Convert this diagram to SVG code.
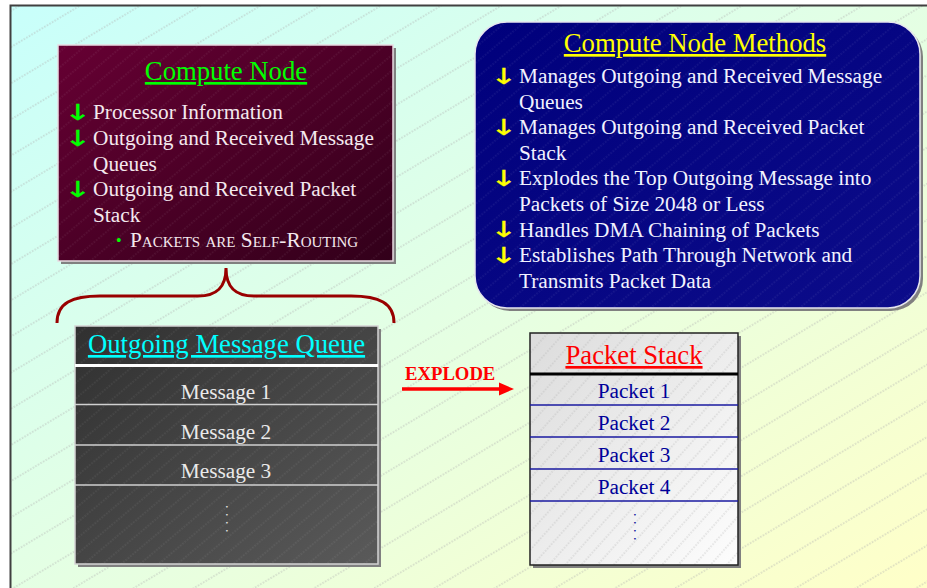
<svg xmlns="http://www.w3.org/2000/svg" width="927" height="588" viewBox="0 0 927 588">
  <defs>
    <linearGradient id="pageFill" x1="0" y1="0" x2="1" y2="1">
      <stop offset="0" stop-color="#c8fffb"/>
      <stop offset="0.5" stop-color="#e4ffe4"/>
      <stop offset="1" stop-color="#ffffc8"/>
    </linearGradient>
    <linearGradient id="maroonFill" x1="0" y1="0" x2="1" y2="1">
      <stop offset="0" stop-color="#660033"/>
      <stop offset="1" stop-color="#32001a"/>
    </linearGradient>
    <linearGradient id="navyFill" x1="0" y1="0" x2="1" y2="1">
      <stop offset="0" stop-color="#00007c"/>
      <stop offset="1" stop-color="#0c0c8a"/>
    </linearGradient>
    <linearGradient id="darkFill" x1="0" y1="0" x2="1" y2="1">
      <stop offset="0" stop-color="#303030"/>
      <stop offset="1" stop-color="#5a5a5a"/>
    </linearGradient>
    <linearGradient id="lightFill" x1="0" y1="0" x2="1" y2="1">
      <stop offset="0" stop-color="#dcdcdc"/>
      <stop offset="1" stop-color="#fdfdfd"/>
    </linearGradient>
    <!-- faint dotted diagonal texture -->
    <pattern id="pageHatch" width="42" height="31" patternUnits="userSpaceOnUse" patternTransform="rotate(-31)">
      <line x1="0" y1="15" x2="42" y2="15" stroke="#b0b0b0" stroke-width="0.8" stroke-dasharray="1.5 1.5"/>
    </pattern>
    <pattern id="boxHatchLight" width="42" height="12" patternUnits="userSpaceOnUse" patternTransform="rotate(-40)">
      <line x1="0" y1="6" x2="42" y2="6" stroke="#ffffff" stroke-opacity="0.16" stroke-width="0.8" stroke-dasharray="1.5 1.5"/>
    </pattern>
    <pattern id="boxHatchDark" width="42" height="12" patternUnits="userSpaceOnUse" patternTransform="rotate(-48)">
      <line x1="0" y1="6" x2="42" y2="6" stroke="#a8a8a8" stroke-opacity="0.7" stroke-width="0.8" stroke-dasharray="1.5 1.5"/>
    </pattern>
  </defs>
  <style>
    text { font-family: "Liberation Serif", "Times New Roman", serif; }
    .title { font-size: 26.7px; text-decoration: underline; text-anchor: middle; }
    .item { font-size: 21.3px; }
    .mark text { font-family: "DejaVu Sans", sans-serif; font-size: 22px; stroke-width: 0.3px; }
    .shadow { fill: #808080; }
    .cell { font-size: 21.3px; text-anchor: middle; }
    .dots { font-size: 14px; letter-spacing: 4.5px; writing-mode: vertical-rl; }
  </style>

  <!-- page -->
  <rect x="0" y="0" width="927" height="588" fill="#ffffff"/>
  <rect x="10" y="5" width="917" height="583" fill="url(#pageFill)"/>
  <rect x="10" y="5" width="917" height="583" fill="url(#pageHatch)"/>
  <path d="M10.5,588 V5.5 H927" fill="none" stroke="#404040" stroke-width="2"/>

  <!-- Compute Node -->
  <g id="compute-node">
    <rect class="shadow" x="61" y="48" width="335" height="216"/>
    <rect x="58" y="45" width="335" height="216" fill="url(#maroonFill)" stroke="#e8dce2" stroke-width="1.5"/>
    <rect x="58" y="45" width="335" height="216" fill="url(#boxHatchLight)"/>
    <text class="title" x="226" y="80" fill="#00ff00">Compute Node</text>
    <g fill="#00ff00" stroke="#00ff00" class="mark">
      <text transform="translate(64,120) scale(1.5,1)">↓</text>
      <text transform="translate(64,146) scale(1.5,1)">↓</text>
      <text transform="translate(64,197) scale(1.5,1)">↓</text>
    </g>
    <g class="item" fill="#f4e8ee">
      <text x="93" y="119">Processor Information</text>
      <text x="93" y="145">Outgoing and Received Message</text>
      <text x="93" y="171">Queues</text>
      <text x="93" y="196">Outgoing and Received Packet</text>
      <text x="93" y="222">Stack</text>
      <text x="130" y="247" font-variant="small-caps">Packets are Self-Routing</text>
    </g>
    <text x="116" y="246" font-size="16" fill="#00ff00">•</text>
  </g>

  <!-- Compute Node Methods -->
  <g id="compute-node-methods">
    <rect class="shadow" x="478" y="25" width="445" height="286" rx="32"/>
    <rect x="475" y="22" width="445" height="286" rx="32" fill="url(#navyFill)" stroke="#e6e6ee" stroke-width="1.5"/>
    <rect x="475" y="22" width="445" height="286" rx="32" fill="url(#boxHatchLight)"/>
    <text class="title" x="695" y="52" fill="#ffff00">Compute Node Methods</text>
    <g fill="#ffff00" stroke="#ffff00" class="mark">
      <text transform="translate(490,84) scale(1.5,1)">↓</text>
      <text transform="translate(490,135) scale(1.5,1)">↓</text>
      <text transform="translate(490,186) scale(1.5,1)">↓</text>
      <text transform="translate(490,237) scale(1.5,1)">↓</text>
      <text transform="translate(490,263) scale(1.5,1)">↓</text>
    </g>
    <g class="item" fill="#f2f2ff">
      <text x="519" y="83">Manages Outgoing and Received Message</text>
      <text x="519" y="108.6">Queues</text>
      <text x="519" y="134.2">Manages Outgoing and Received Packet</text>
      <text x="519" y="159.8">Stack</text>
      <text x="519" y="185.4">Explodes the Top Outgoing Message into</text>
      <text x="519" y="211">Packets of Size 2048 or Less</text>
      <text x="519" y="236.6">Handles DMA Chaining of Packets</text>
      <text x="519" y="262.2">Establishes Path Through Network and</text>
      <text x="519" y="287.8">Transmits Packet Data</text>
    </g>
  </g>

  <!-- Outgoing Message Queue -->
  <g id="outgoing-message-queue">
    <rect class="shadow" x="78" y="329" width="303" height="238"/>
    <rect x="75" y="326" width="303" height="238" fill="url(#darkFill)" stroke="#d4d4d4" stroke-width="1.5"/>
    <rect x="75" y="326" width="303" height="238" fill="url(#boxHatchLight)"/>
    <g stroke="#d0d0d0" stroke-width="1.5">
      <line x1="75" y1="404.5" x2="378" y2="404.5"/>
      <line x1="75" y1="445" x2="378" y2="445"/>
      <line x1="75" y1="485" x2="378" y2="485"/>
    </g>
    <line x1="75" y1="365.5" x2="378" y2="365.5" stroke="#ffffff" stroke-width="3"/>
    <text class="title" x="226.5" y="353" fill="#00ffff">Outgoing Message Queue</text>
    <g class="cell" fill="#eaeaea">
      <text x="226" y="399">Message 1</text>
      <text x="226" y="439">Message 2</text>
      <text x="226" y="478">Message 3</text>
    </g>
    <text class="dots" x="230" y="505" fill="#eaeaea">....</text>
  </g>

  <!-- Packet Stack -->
  <g id="packet-stack">
    <rect class="shadow" x="533" y="336" width="208" height="232"/>
    <rect x="530" y="333" width="208" height="232" fill="url(#lightFill)"/>
    <rect x="530" y="333" width="208" height="232" fill="url(#boxHatchDark)" stroke="#222222" stroke-width="1.5"/>
    <g stroke="#1a1aa0" stroke-width="1.5">
      <line x1="530" y1="405" x2="738" y2="405"/>
      <line x1="530" y1="437" x2="738" y2="437"/>
      <line x1="530" y1="469" x2="738" y2="469"/>
      <line x1="530" y1="501" x2="738" y2="501"/>
    </g>
    <line x1="530" y1="374" x2="738" y2="374" stroke="#000000" stroke-width="3"/>
    <text class="title" x="634" y="364" fill="#ff0000">Packet Stack</text>
    <g class="cell" fill="#000099">
      <text x="634" y="398">Packet 1</text>
      <text x="634" y="430">Packet 2</text>
      <text x="634" y="462">Packet 3</text>
      <text x="634" y="494">Packet 4</text>
    </g>
    <text class="dots" x="638" y="513" fill="#000099">....</text>
  </g>

  <!-- connectors -->
  <g id="connectors">
    <path id="brace" d="M57,323 C57,303 72,296 100,296 L198,296 C216,296 226,288 226,268 C226,288 236,296 254,296 L351,296 C379,296 394,303 394,323" fill="none" stroke="#990000" stroke-width="3"/>
    <g id="explode">
      <text x="405" y="380" font-size="18.7" font-weight="bold" fill="#ff0000">EXPLODE</text>
      <line x1="402" y1="389" x2="501" y2="389" stroke="#ff0000" stroke-width="3.5"/>
      <polygon points="499,382.5 514,389 499,395.5" fill="#ff0000"/>
    </g>
  </g>
</svg>
